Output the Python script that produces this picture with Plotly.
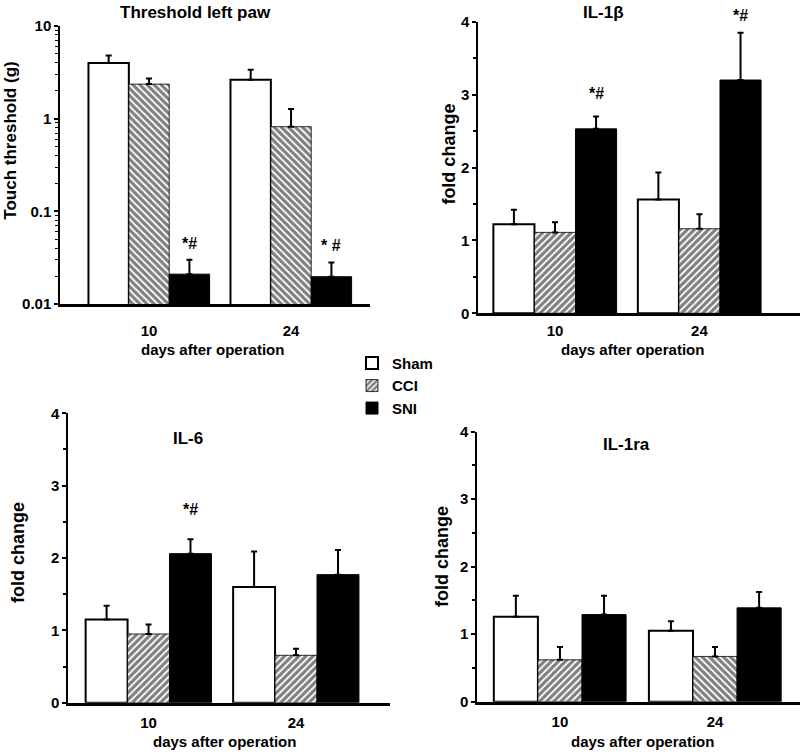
import math

import plotly.graph_objects as go

# days after operation (categories)
days = ["10", "24"]
groups = ["Sham", "CCI", "SNI"]

# Threshold left paw, touch threshold in g (log axis)
thr_sham = [4.0, 2.63]
thr_sham_err = [0.8, 0.74]
thr_cci = [2.36, 0.82]
thr_cci_err = [0.35, 0.45]
thr_sni = [0.021, 0.0197]
thr_sni_err = [0.009, 0.0084]
thr_sig = ["*#", "* #"]
thr_sig_y = [0.045, 0.043]

# IL-1beta fold change
il1b_sham = [1.22, 1.56]
il1b_sham_err = [0.20, 0.37]
il1b_cci = [1.11, 1.16]
il1b_cci_err = [0.14, 0.20]
il1b_sni = [2.53, 3.20]
il1b_sni_err = [0.17, 0.65]
il1b_sig = ["*#", "*#"]
il1b_sig_y = [3.02, 4.09]

# IL-6 fold change
il6_sham = [1.15, 1.60]
il6_sham_err = [0.19, 0.49]
il6_cci = [0.95, 0.655]
il6_cci_err = [0.13, 0.09]
il6_sni = [2.06, 1.77]
il6_sni_err = [0.20, 0.34]
il6_sig = ["*#", ""]
il6_sig_y = [2.67, None]

# IL-1ra fold change
il1ra_sham = [1.26, 1.05]
il1ra_sham_err = [0.31, 0.14]
il1ra_cci = [0.62, 0.67]
il1ra_cci_err = [0.19, 0.14]
il1ra_sni = [1.29, 1.39]
il1ra_sni_err = [0.28, 0.235]

FONT = "Liberation Sans, Arial, sans-serif"

fig = go.Figure()


def add_panel(n, sham, sham_err, cci, cci_err, sni, sni_err, cci_shapes, legend=False):
    xa, ya = ('x', 'y') if n == 1 else (f'x{n}', f'y{n}')
    styles = [
        (sham, sham_err, dict(color='white', line=dict(color='black', width=2))),
        (cci, cci_err, dict(color='white', line=dict(color='black', width=0.8),
                            pattern=dict(shape=cci_shapes, fgcolor='black', bgcolor='white',
                                         size=5, solidity=0.65))),
        (sni, sni_err, dict(color='black', line=dict(color='black', width=1))),
    ]
    for name, (vals, err, marker) in zip(groups, styles):
        fig.add_trace(go.Bar(
            x=days, y=vals, name=name,
            xaxis=xa, yaxis=ya,
            marker=marker,
            error_y=dict(type='data', symmetric=False, array=err,
                         arrayminus=[0] * len(err), color='black',
                         thickness=2, width=3),
            showlegend=legend,
        ))


add_panel(1, thr_sham, thr_sham_err, thr_cci, thr_cci_err, thr_sni, thr_sni_err, ["\\", "\\"])
add_panel(2, il1b_sham, il1b_sham_err, il1b_cci, il1b_cci_err, il1b_sni, il1b_sni_err,
          ["/", "/"], legend=True)
add_panel(3, il6_sham, il6_sham_err, il6_cci, il6_cci_err, il6_sni, il6_sni_err, ["/", "/"])
add_panel(4, il1ra_sham, il1ra_sham_err, il1ra_cci, il1ra_cci_err, il1ra_sni, il1ra_sni_err,
          ["/", "\\"])

tick_font = dict(family=FONT, size=15, color='black', weight='bold')


def xaxis(domain, rng, anchor, standoff):
    return dict(domain=domain, range=rng, anchor=anchor, type='category',
                showline=True, linecolor='black', linewidth=2.5,
                ticks='', ticklabelstandoff=standoff, tickfont=tick_font,
                showgrid=False, zeroline=False, automargin=False)


def yaxis(domain, anchor):
    return dict(domain=domain, anchor=anchor, range=[0, 4],
                showline=True, linecolor='black', linewidth=1.5,
                ticks='outside', ticklen=4, tickwidth=1.5, tickcolor='black',
                tickvals=[0, 1, 2, 3, 4], tickfont=tick_font,
                minor=dict(ticks='outside', ticklen=3, tickwidth=1.5,
                           tickcolor='black', dtick=0.5),
                showgrid=False, zeroline=False, automargin=False)


log_minor = [m * 10 ** e for e in (-2, -1, 0) for m in range(2, 10)]

layout_axes = dict(
    xaxis=xaxis([0.075, 0.4625], [-0.627, 1.556], 'y', 11),
    yaxis=dict(domain=[0.5968, 0.9655], anchor='x', type='log', range=[-2, 1],
               showline=True, linecolor='black', linewidth=1.5,
               ticks='outside', ticklen=4, tickwidth=1.5, tickcolor='black',
               tickvals=[0.01, 0.1, 1, 10], ticktext=['0.01', '0.1', '1', '10'],
               tickfont=tick_font,
               minor=dict(ticks='outside', ticklen=3, tickwidth=1, tickcolor='black',
                          tickvals=log_minor),
               showgrid=False, zeroline=False, automargin=False),
    xaxis2=xaxis([0.5975, 1.0], [-0.533, 1.696], 'y2', 2),
    yaxis2=yaxis([0.5845, 0.9712], 'x2'),
    xaxis3=xaxis([0.085, 0.4875], [-0.546, 1.637], 'y3', 5),
    yaxis3=yaxis([0.068, 0.4519], 'x3'),
    xaxis4=xaxis([0.59625, 1.0], [-0.535, 1.548], 'y4', 5),
    yaxis4=yaxis([0.0694, 0.4275], 'x4'),
)

annotations = []


def paper_text(text, x, y, size, angle=0):
    annotations.append(dict(text=text, x=x, y=y, xref='paper', yref='paper', textangle=angle,
                            showarrow=False, xanchor='center', yanchor='middle',
                            font=dict(family=FONT, size=size, color='black', weight='bold')))


# panel titles
for text, x, y in [("Threshold left paw", 0.244, 0.984), ("IL-1β", 0.754, 0.983),
                   ("IL-6", 0.235, 0.418), ("IL-1ra", 0.7825, 0.410)]:
    paper_text(text, x, y, 17)

# x axis titles
for x, y in [(0.266, 0.536), (0.79, 0.536), (0.281, 0.016), (0.8025, 0.016)]:
    paper_text("days after operation", x, y, 15)

# y axis titles
for text, x, y, size in [("Touch threshold (g)", 0.013, 0.814, 17),
                         ("fold change", 0.561, 0.796, 18),
                         ("fold change", 0.0225, 0.2666, 18),
                         ("fold change", 0.5525, 0.2613, 18)]:
    paper_text(text, x, y, size, angle=-90)

# significance markers above SNI bars (placed as fraction of the y axis domain)
sni_offset = 0.284
for xa, ya, sig, sig_y, logy in [('x', 'y', thr_sig, thr_sig_y, True),
                                 ('x2', 'y2', il1b_sig, il1b_sig_y, False),
                                 ('x3', 'y3', il6_sig, il6_sig_y, False)]:
    for i, (s, yv) in enumerate(zip(sig, sig_y)):
        if not s:
            continue
        frac = (math.log10(yv) + 2) / 3 if logy else yv / 4
        annotations.append(dict(text=s, x=i + sni_offset, y=frac,
                                xref=xa, yref=f'{ya} domain',
                                showarrow=False, xanchor='center', yanchor='middle',
                                font=dict(family=FONT, size=16, color='black', weight='bold')))

fig.update_layout(
    **layout_axes,
    annotations=annotations,
    barmode='group',
    bargap=0.147,
    bargroupgap=0,
    width=800,
    height=754,
    margin=dict(l=0, r=0, t=0, b=0, autoexpand=False),
    plot_bgcolor='white',
    paper_bgcolor='white',
    showlegend=True,
    legend=dict(x=0.44, y=0.54, xanchor='left', yanchor='top',
                font=dict(family=FONT, size=15, color='black', weight='bold'),
                bgcolor='rgba(0,0,0,0)', itemwidth=30, tracegroupgap=0),
)

fig.write_html("out.html", config={'displayModeBar': False},
               post_script="document.body.style.margin = '0px';")
